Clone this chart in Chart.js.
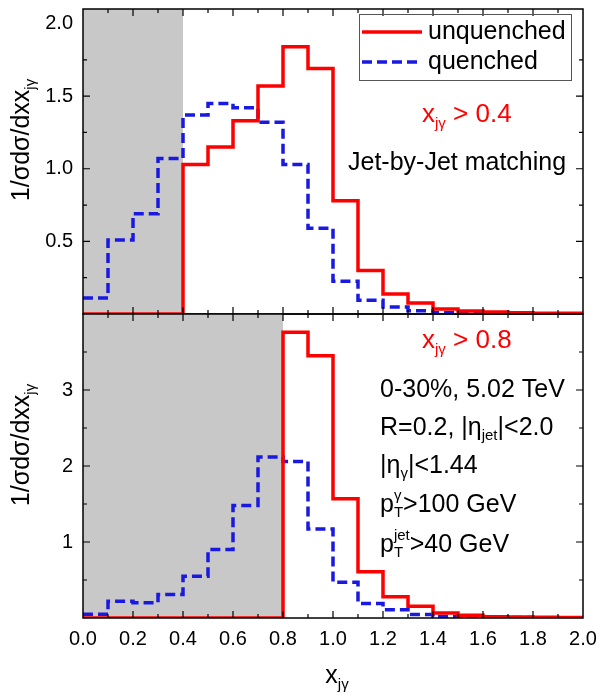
<!DOCTYPE html>
<html><head><meta charset="utf-8">
<script src="https://cdn.jsdelivr.net/npm/chart.js@4/dist/chart.umd.min.js"></script>
<style>
body{margin:0;background:#fff;width:600px;height:700px;position:relative;overflow:hidden}
.wrap{position:absolute;left:0;width:600px}
#w1{top:0;height:320px}
#w2{top:300px;height:400px}
canvas{display:block}
</style></head><body>
<div class="wrap" id="w1"><canvas id="c1" style="width:600px;height:320px"></canvas></div>
<div class="wrap" id="w2"><canvas id="c2" style="width:600px;height:400px"></canvas></div>
<script>
// ---- data (bins of width 0.1 on x from 0.0 to 2.0) ----
const binEdges = [0.0,0.1,0.2,0.3,0.4,0.5,0.6,0.7,0.8,0.9,1.0,1.1,1.2,1.3,1.4,1.5,1.6,1.7,1.8,1.9,2.0];
const topUnquenched = [0,0,0,0,1.03,1.15,1.33,1.57,1.84,1.69,0.78,0.30,0.137,0.075,0.035,0.02,0.014,0.008,0.006,0.005];
const topQuenched   = [0.11,0.51,0.69,1.07,1.37,1.45,1.42,1.32,1.03,0.59,0.225,0.095,0.048,0.022,0.009,0.006,0.004,0.003,0.002,0.002];
const bottomUnquenched = [0,0,0,0,0,0,0,0,3.76,3.45,1.57,0.61,0.28,0.155,0.066,0.036,0.016,0.012,0.01,0.008];
const bottomQuenched   = [0.05,0.22,0.20,0.31,0.55,0.90,1.48,2.12,2.06,1.17,0.47,0.19,0.11,0.045,0.02,0.012,0.008,0.006,0.004,0.003];
const xTickLabels = ['0.0','0.2','0.4','0.6','0.8','1.0','1.2','1.4','1.6','1.8','2.0'];
const cuts = [0.4, 0.8];
const seriesNames = ['unquenched','quenched'];

const FONT = '"Liberation Sans", Arial, sans-serif';
const RED = '#ff0000';
const BLUE = 'rgb(25,25,225)';
const GRAY = 'rgb(200,200,200)';

function toPoints(vals){
  const pts = vals.map((v,i)=>({x:binEdges[i], y:v}));
  pts.push({x:binEdges[binEdges.length-1], y:vals[vals.length-1]});
  return pts;
}

function richWidth(ctx, parts){
  let w=0;
  for(const p of parts){
    ctx.font = p.s+'px '+FONT;
    if(p.t!==undefined) w+=ctx.measureText(p.t).width;
    else w+=Math.max(p.sub?ctx.measureText(p.sub).width:0, p.sup?ctx.measureText(p.sup).width:0);
  }
  return w;
}
function drawRich(ctx, x, y, parts, color){
  ctx.save();
  ctx.fillStyle=color; ctx.textAlign='left'; ctx.textBaseline='middle';
  let cx=x;
  for(const p of parts){
    ctx.font = p.s+'px '+FONT;
    if(p.t!==undefined){ ctx.fillText(p.t, cx, y+(p.dy||0)); cx+=ctx.measureText(p.t).width; }
    else{
      let w=0;
      if(p.sub){ ctx.fillText(p.sub, cx, y+8); w=Math.max(w,ctx.measureText(p.sub).width); }
      if(p.sup){ ctx.fillText(p.sup, cx, y-9); w=Math.max(w,ctx.measureText(p.sup).width); }
      cx+=w;
    }
  }
  ctx.restore();
}

const decor = {
  id:'decor',
  beforeDatasetsDraw(chart, args, o){
    const {ctx, chartArea:a, scales:{x}} = chart;
    ctx.save();
    ctx.fillStyle = GRAY;
    const x0 = x.getPixelForValue(0), x1 = x.getPixelForValue(o.cut);
    ctx.fillRect(x0, a.top, x1-x0, a.bottom-a.top);
    ctx.restore();
  },
  afterDatasetsDraw(chart, args, o){
    const {ctx, chartArea:a, scales:{x,y}} = chart;
    ctx.save();
    ctx.strokeStyle='#000'; ctx.lineWidth=1.5;
    ctx.strokeRect(a.left, a.top, a.right-a.left, a.bottom-a.top);
    ctx.lineWidth=1.2;
    ctx.beginPath();
    for(let i=1;i<20;i++){
      const v=i/10, px=x.getPixelForValue(v), len=(i%2===0)?7:4;
      ctx.moveTo(px,a.bottom); ctx.lineTo(px,a.bottom-len);
      ctx.moveTo(px,a.top); ctx.lineTo(px,a.top+len);
    }
    const n = Math.round(y.max/o.yMinor);
    for(let i=1;i<n;i++){
      const v=i*o.yMinor, py=y.getPixelForValue(v);
      const major = Math.abs(v/o.yMajor-Math.round(v/o.yMajor))<1e-6;
      const len = major?7:4;
      ctx.moveTo(a.left,py); ctx.lineTo(a.left+len,py);
      ctx.moveTo(a.right,py); ctx.lineTo(a.right-len,py);
    }
    ctx.stroke();
    ctx.restore();

    const yt=[{t:'1/σdσ/dxx',s:25},{t:'jγ',s:15,dy:9}];
    const w=richWidth(ctx,yt);
    ctx.save();
    ctx.translate(22, o.yTitleY);
    ctx.rotate(-Math.PI/2);
    drawRich(ctx,-w/2,0,yt,'#000');
    ctx.restore();

    for(const t of o.texts) drawRich(ctx, t.x, t.y, t.parts, t.color);

    if(o.legend){
      ctx.save();
      ctx.strokeStyle='#555'; ctx.lineWidth=1;
      ctx.strokeRect(359.5,14.5,212,66);
      ctx.lineWidth=3.5; ctx.strokeStyle=RED;
      ctx.beginPath(); ctx.moveTo(362,32); ctx.lineTo(422,32); ctx.stroke();
      ctx.strokeStyle=BLUE; ctx.setLineDash([10,5]);
      ctx.beginPath(); ctx.moveTo(362,62); ctx.lineTo(422,62); ctx.stroke();
      ctx.setLineDash([]);
      ctx.restore();
      drawRich(ctx,428,32,[{t:seriesNames[0],s:25}],'#000');
      drawRich(ctx,428,62,[{t:seriesNames[1],s:25}],'#000');
    }
    if(o.xTitle){
      const xt=[{t:'x',s:25},{t:'jγ',s:15,dy:9}];
      const xw=richWidth(ctx,xt);
      drawRich(ctx, x.getPixelForValue(1.0)-xw/2+4, o.xTitleY, xt, '#000');
    }
  }
};

function makeChart(id, unq, q, opts){
  return new Chart(document.getElementById(id), {
    type:'line',
    data:{datasets:[
      {label:seriesNames[0], data:toPoints(unq), borderColor:RED, borderWidth:3.5, stepped:'before', pointRadius:0, fill:false},
      {label:seriesNames[1], data:toPoints(q), borderColor:BLUE, borderWidth:3.5, borderDash:[10,5], stepped:'before', pointRadius:0, fill:false}
    ]},
    plugins:[decor],
    options:{
      responsive:true, maintainAspectRatio:false, animation:false, devicePixelRatio:1,
      layout:{padding:opts.padding},
      plugins:{legend:{display:false}, tooltip:{enabled:false}, decor:opts.decor},
      scales:{
        x:{type:'linear', min:0, max:2, display:opts.showX,
           grid:{display:false, drawTicks:false}, border:{display:false},
           afterFit(s){ s.height = opts.showX ? 82 : 0; s.paddingLeft=0; s.paddingRight=0; },
           afterBuildTicks(s){ s.ticks = xTickLabels.map(l=>({value:parseFloat(l)})); },
           ticks:{padding:9, color:'#000', font:{family:FONT, size:20}, maxRotation:0, autoSkip:false,
                  callback:(v)=>{ const l=xTickLabels.find(t=>Math.abs(parseFloat(t)-v)<1e-6); return l||''; }}},
        y:{type:'linear', min:0, max:opts.yMax,
           grid:{display:false, drawTicks:false}, border:{display:false},
           afterFit(s){ s.width = 83; s.paddingTop=0; s.paddingBottom=0; },
           afterBuildTicks(s){ s.ticks = opts.yLabels.map(l=>({value:parseFloat(l)})); },
           ticks:{padding:10, color:'#000', font:{family:FONT, size:20},
                  callback:(v)=>{ const l=opts.yLabels.find(t=>Math.abs(parseFloat(t)-v)<1e-6); return l||''; }}}
      }
    }
  });
}

const topYLabels = ['0.5','1.0','1.5','2.0'];
const bottomYLabels = ['1','2','3'];

makeChart('c1', topUnquenched, topQuenched, {
  padding:{left:0, right:17, top:9, bottom:6},
  showX:false, yMax:2.1, yLabels:topYLabels,
  decor:{cut:cuts[0], yMinor:0.25, yMajor:0.5, yTitleY:140, legend:true,
    texts:[
      {x:422, y:115, color:RED, parts:[{t:'x',s:26},{t:'jγ',s:15,dy:9},{t:' > 0.4',s:26}]},
      {x:348, y:163, color:'#000', parts:[{t:'Jet-by-Jet matching',s:25}]}
    ]}
});

makeChart('c2', bottomUnquenched, bottomQuenched, {
  padding:{left:0, right:17, top:14, bottom:0},
  showX:true, yMax:4.0, yLabels:bottomYLabels,
  decor:{cut:cuts[1], yMinor:0.5, yMajor:1, yTitleY:145, legend:false, xTitle:true, xTitleY:376,
    texts:[
      {x:422, y:41, color:RED, parts:[{t:'x',s:26},{t:'jγ',s:15,dy:9},{t:' > 0.8',s:26}]},
      {x:380, y:90, color:'#000', parts:[{t:'0-30%, 5.02 TeV',s:25}]},
      {x:380, y:128, color:'#000', parts:[{t:'R=0.2, |η',s:25},{t:'jet',s:15,dy:8},{t:'|<2.0',s:25}]},
      {x:380, y:166, color:'#000', parts:[{t:'|η',s:25},{t:'γ',s:15,dy:8},{t:'|<1.44',s:25}]},
      {x:380, y:205, color:'#000', parts:[{t:'p',s:25},{sub:'T',sup:'γ',s:15},{t:'>100 GeV',s:25}]},
      {x:380, y:245, color:'#000', parts:[{t:'p',s:25},{sub:'T',sup:'jet',s:15},{t:'>40 GeV',s:25}]}
    ]}
});
</script>
</body></html>
